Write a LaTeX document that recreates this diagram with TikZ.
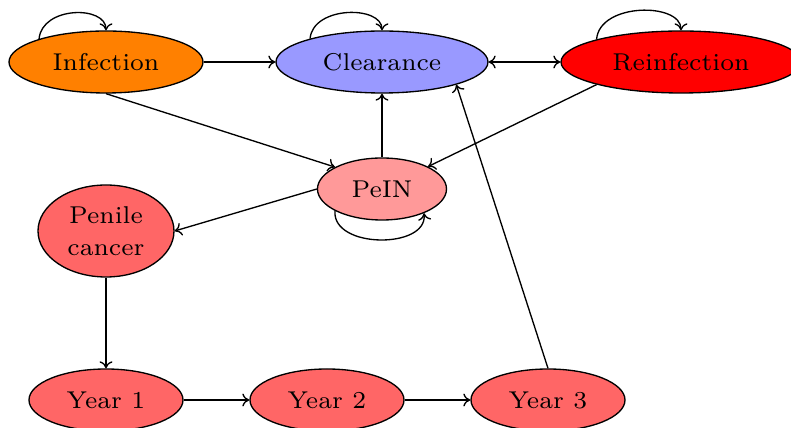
\documentclass[tikz,border=0pt]{standalone}
\usetikzlibrary{shapes.geometric, arrows.meta}

\begin{document}
\begin{tikzpicture}[
  x=0.3pt, y=-0.3pt,
  >={To[length=2.1pt, width=3.9pt]},
  state/.style={ellipse, draw, inner sep=0pt, minimum height=18.6pt,
    align=center, font=\fontsize{7.3}{9.6}\selectfont},
  flow/.style={->}
]
\useasboundingbox (0,0) rectangle (791,428);

% states
\node[state, fill=orange,  minimum width=58.2pt] (inf)  at (106,62)  {Infection};
\node[state, fill=blue!40, minimum width=63.6pt] (clr)  at (382,62)  {Clearance};
\node[state, fill=red,     minimum width=72pt]   (rei)  at (681,62)  {Reinfection};
\node[state, fill=red!40,  minimum width=38.7pt] (pein) at (382,189) {PeIN};
\node[state, fill=red!60,  minimum width=40.8pt, minimum height=27.6pt] (pcan) at (106,231) {Penile\\cancer};
\node[state, fill=red!60,  minimum width=46.2pt] (y1)   at (106,400) {Year 1};
\node[state, fill=red!60,  minimum width=46.2pt] (y2)   at (327,400) {Year 2};
\node[state, fill=red!60,  minimum width=46.2pt] (y3)   at (548,400) {Year 3};

% transitions
\draw[flow] (inf) -- (clr);
\draw[<->] (clr) -- (rei);
\draw[flow] (inf.south) -- (pein.155);
\draw[flow] (rei.195) -- (pein);
\draw[flow] (pein) -- (clr);
\draw[flow] (pein.west) -- (pcan.east);
\draw[flow] (pcan) -- (y1);
\draw[flow] (y1) -- (y2);
\draw[flow] (y2) -- (y3);
\draw[flow] (y3.north) -- (clr.-17);

% self loops
\draw[flow] (inf.161) .. controls +(3,-33) and +(0,-25) .. (inf.north);
\draw[flow] (clr.162) .. controls +(3,-33) and +(0,-25) .. (clr.north);
\draw[flow] (rei.165) .. controls +(3,-37) and +(0,-28) .. (rei.north);
\draw[flow] (pein.205) .. controls +(-3,38) and +(4,36) .. (pein.-30);
\end{tikzpicture}
\end{document}
